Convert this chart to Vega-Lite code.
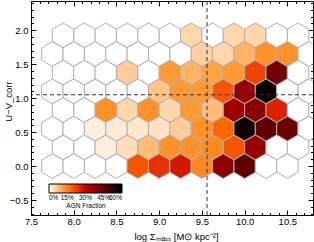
{
  "$schema": "https://vega.github.io/schema/vega-lite/v6.json",
  "width": 282,
  "height": 214,
  "autosize": {"type": "none"},
  "padding": {"left": 31, "top": 1, "right": 1, "bottom": 27},
  "config": {
    "view": {"stroke": "black", "strokeWidth": 1},
    "font": "Liberation Sans",
    "axis": {"domain": false, "grid": false, "tickColor": "black", "labelColor": "black", "titleColor": "black", "labelFont": "Liberation Sans", "titleFont": "Liberation Sans", "labelFontSize": 9.5, "titleFontSize": 9.5, "titleFontWeight": "normal", "labelOverlap": false, "labelFlush": false, "labelBound": false}
  },
  "resolve": {"axis": {"x": "independent", "y": "independent"}},
  "layer": [
    {
      "data": {"values": [
        {"logSigma": 7.875, "UV": 1.925, "agn": 0}, {"logSigma": 8.125, "UV": 1.925, "agn": 0}, {"logSigma": 8.375, "UV": 1.925, "agn": 0}, {"logSigma": 8.625, "UV": 1.925, "agn": 0}, {"logSigma": 8.875, "UV": 1.925, "agn": 0}, {"logSigma": 9.125, "UV": 1.925, "agn": 0}, {"logSigma": 9.375, "UV": 1.925, "agn": 0.05}, {"logSigma": 9.625, "UV": 1.925, "agn": 0}, {"logSigma": 9.875, "UV": 1.925, "agn": 0.05}, {"logSigma": 10.125, "UV": 1.925, "agn": 0.05}, {"logSigma": 10.375, "UV": 1.925, "agn": 0}, {"logSigma": 10.625, "UV": 1.925, "agn": 0},
        {"logSigma": 7.75, "UV": 1.65, "agn": 0}, {"logSigma": 8.0, "UV": 1.65, "agn": 0}, {"logSigma": 8.25, "UV": 1.65, "agn": 0}, {"logSigma": 8.5, "UV": 1.65, "agn": 0}, {"logSigma": 8.75, "UV": 1.65, "agn": 0}, {"logSigma": 9.0, "UV": 1.65, "agn": 0}, {"logSigma": 9.25, "UV": 1.65, "agn": 0}, {"logSigma": 9.5, "UV": 1.65, "agn": 0.055}, {"logSigma": 9.75, "UV": 1.65, "agn": 0.05}, {"logSigma": 10.0, "UV": 1.65, "agn": 0.09}, {"logSigma": 10.25, "UV": 1.65, "agn": 0.13}, {"logSigma": 10.5, "UV": 1.65, "agn": 0.13}, {"logSigma": 10.75, "UV": 1.65, "agn": 0},
        {"logSigma": 7.875, "UV": 1.375, "agn": 0}, {"logSigma": 8.125, "UV": 1.375, "agn": 0}, {"logSigma": 8.375, "UV": 1.375, "agn": 0}, {"logSigma": 8.625, "UV": 1.375, "agn": 0.06}, {"logSigma": 8.875, "UV": 1.375, "agn": 0}, {"logSigma": 9.125, "UV": 1.375, "agn": 0.12}, {"logSigma": 9.375, "UV": 1.375, "agn": 0.09}, {"logSigma": 9.625, "UV": 1.375, "agn": 0.11}, {"logSigma": 9.875, "UV": 1.375, "agn": 0.12}, {"logSigma": 10.125, "UV": 1.375, "agn": 0.22}, {"logSigma": 10.375, "UV": 1.375, "agn": 0.42}, {"logSigma": 10.625, "UV": 1.375, "agn": 0},
        {"logSigma": 7.75, "UV": 1.1, "agn": 0}, {"logSigma": 8.0, "UV": 1.1, "agn": 0}, {"logSigma": 8.25, "UV": 1.1, "agn": 0}, {"logSigma": 8.5, "UV": 1.1, "agn": 0}, {"logSigma": 8.75, "UV": 1.1, "agn": 0}, {"logSigma": 9.0, "UV": 1.1, "agn": 0.07}, {"logSigma": 9.25, "UV": 1.1, "agn": 0.12}, {"logSigma": 9.5, "UV": 1.1, "agn": 0.12}, {"logSigma": 9.75, "UV": 1.1, "agn": 0.2}, {"logSigma": 10.0, "UV": 1.1, "agn": 0.36}, {"logSigma": 10.25, "UV": 1.1, "agn": 0.58}, {"logSigma": 10.5, "UV": 1.1, "agn": 0}, {"logSigma": 10.75, "UV": 1.1, "agn": 0},
        {"logSigma": 7.875, "UV": 0.825, "agn": 0}, {"logSigma": 8.125, "UV": 0.825, "agn": 0}, {"logSigma": 8.375, "UV": 0.825, "agn": 0.13}, {"logSigma": 8.625, "UV": 0.825, "agn": 0.05}, {"logSigma": 8.875, "UV": 0.825, "agn": 0.13}, {"logSigma": 9.125, "UV": 0.825, "agn": 0.05}, {"logSigma": 9.375, "UV": 0.825, "agn": 0.12}, {"logSigma": 9.625, "UV": 0.825, "agn": 0.08}, {"logSigma": 9.875, "UV": 0.825, "agn": 0.35}, {"logSigma": 10.125, "UV": 0.825, "agn": 0.38}, {"logSigma": 10.375, "UV": 0.825, "agn": 0.26}, {"logSigma": 10.625, "UV": 0.825, "agn": 0},
        {"logSigma": 7.75, "UV": 0.55, "agn": 0}, {"logSigma": 8.0, "UV": 0.55, "agn": 0}, {"logSigma": 8.25, "UV": 0.55, "agn": 0.02}, {"logSigma": 8.5, "UV": 0.55, "agn": 0.025}, {"logSigma": 8.75, "UV": 0.55, "agn": 0.03}, {"logSigma": 9.0, "UV": 0.55, "agn": 0.035}, {"logSigma": 9.25, "UV": 0.55, "agn": 0.06}, {"logSigma": 9.5, "UV": 0.55, "agn": 0.13}, {"logSigma": 9.75, "UV": 0.55, "agn": 0.18}, {"logSigma": 10.0, "UV": 0.55, "agn": 0.57}, {"logSigma": 10.25, "UV": 0.55, "agn": 0.45}, {"logSigma": 10.5, "UV": 0.55, "agn": 0.43}, {"logSigma": 10.75, "UV": 0.55, "agn": 0},
        {"logSigma": 7.875, "UV": 0.275, "agn": 0}, {"logSigma": 8.125, "UV": 0.275, "agn": 0}, {"logSigma": 8.375, "UV": 0.275, "agn": 0.02}, {"logSigma": 8.625, "UV": 0.275, "agn": 0.04}, {"logSigma": 8.875, "UV": 0.275, "agn": 0.08}, {"logSigma": 9.125, "UV": 0.275, "agn": 0.13}, {"logSigma": 9.375, "UV": 0.275, "agn": 0.13}, {"logSigma": 9.625, "UV": 0.275, "agn": 0.14}, {"logSigma": 9.875, "UV": 0.275, "agn": 0.2}, {"logSigma": 10.125, "UV": 0.275, "agn": 0.36}, {"logSigma": 10.375, "UV": 0.275, "agn": 0}, {"logSigma": 10.625, "UV": 0.275, "agn": 0},
        {"logSigma": 7.75, "UV": 0.0, "agn": 0}, {"logSigma": 8.0, "UV": 0.0, "agn": 0}, {"logSigma": 8.25, "UV": 0.0, "agn": 0}, {"logSigma": 8.5, "UV": 0.0, "agn": 0}, {"logSigma": 8.75, "UV": 0.0, "agn": 0.2}, {"logSigma": 9.0, "UV": 0.0, "agn": 0.24}, {"logSigma": 9.25, "UV": 0.0, "agn": 0.27}, {"logSigma": 9.5, "UV": 0.0, "agn": 0.14}, {"logSigma": 9.75, "UV": 0.0, "agn": 0.38}, {"logSigma": 10.0, "UV": 0.0, "agn": 0.45}, {"logSigma": 10.25, "UV": 0.0, "agn": 0}, {"logSigma": 10.5, "UV": 0.0, "agn": 0}
      ]},
      "mark": {"type": "point", "shape": "M0,-1L0.866,-0.5L0.866,0.5L0,1L-0.866,0.5L-0.866,-0.5Z", "size": 610, "filled": true, "opacity": 1, "fillOpacity": 1, "stroke": "#b0b0b0", "strokeWidth": 1, "clip": true},
      "encoding": {
        "x": {"field": "logSigma", "type": "quantitative", "scale": {"domain": [7.5, 10.8], "nice": false, "zero": false},
          "axis": {"orient": "bottom", "title": "log Σₘₐₛₛ [M⊙ kpc⁻²]", "titleX": 145, "titleY": 21, "titleBaseline": "middle", "titleAlign": "center",
            "values": [7.5,7.6,7.7,7.8,7.9,8.0,8.1,8.2,8.3,8.4,8.5,8.6,8.7,8.8,8.9,9.0,9.1,9.2,9.3,9.4,9.5,9.6,9.7,9.8,9.9,10.0,10.1,10.2,10.3,10.4,10.5,10.6,10.7],
            "tickSize": {"condition": {"test": "abs(datum.value*2-round(datum.value*2))<0.001", "value": -5}, "value": -2.5},
            "labelExpr": "abs(datum.value*2-round(datum.value*2))<0.001 ? format(datum.value,'.1f') : ''",
            "labelPadding": 6}},
        "y": {"field": "UV", "type": "quantitative", "scale": {"domain": [-0.72, 2.43], "nice": false, "zero": false},
          "axis": {"orient": "left", "title": "U−V_corr", "titleX": -23, "titleY": 100, "titleAngle": 270, "titleBaseline": "middle", "titleAlign": "center",
            "values": [-0.7,-0.6,-0.5,-0.4,-0.3,-0.2,-0.1,0.0,0.1,0.2,0.3,0.4,0.5,0.6,0.7,0.8,0.9,1.0,1.1,1.2,1.3,1.4,1.5,1.6,1.7,1.8,1.9,2.0,2.1,2.2,2.3,2.4],
            "tickSize": {"condition": {"test": "abs(datum.value*2-round(datum.value*2))<0.001", "value": -5}, "value": -2.5},
            "labelExpr": "abs(datum.value*2-round(datum.value*2))<0.001 ? format(datum.value,'.1f') : ''",
            "labelPadding": 8}},
        "fill": {"condition": {"test": "datum.agn == 0", "value": "#ffffff"},
          "field": "agn", "type": "quantitative", "title": "AGN Fraction",
          "scale": {"type": "linear", "interpolate": "rgb", "domain": [0, 0.06, 0.12, 0.18, 0.24, 0.3, 0.36, 0.42, 0.48, 0.54, 0.6],
            "range": ["#ffffff", "#ffcc99", "#ff9933", "#ff6600", "#e63300", "#bf0000", "#990000", "#730000", "#4d0000", "#260000", "#000000"]},
          "legend": {"orient": "none", "legendX": 18, "legendY": 183, "direction": "horizontal", "gradientLength": 73, "gradientThickness": 9,
            "gradientStrokeColor": "black", "gradientStrokeWidth": 1, "values": [0, 0.15, 0.3, 0.45, 0.6], "format": ".0%",
            "labelFontSize": 6.5, "labelFont": "Liberation Sans", "labelColor": "black", "labelOverlap": false, "labelOffset": 2,
            "titleOrient": "bottom", "titleAnchor": "middle", "titleFontSize": 6.5, "titleFontWeight": "normal", "titleFont": "Liberation Sans", "titleColor": "black", "titlePadding": 1, "padding": 0}}
      }
    },
    {
      "data": {"values": [{"logSigma": 9.56}]},
      "mark": {"type": "rule", "stroke": "#333333", "strokeWidth": 1, "strokeDash": [4, 3]},
      "encoding": {
        "x": {"field": "logSigma", "type": "quantitative",
          "axis": {"orient": "top", "title": null, "labels": false,
            "values": [7.5,7.6,7.7,7.8,7.9,8.0,8.1,8.2,8.3,8.4,8.5,8.6,8.7,8.8,8.9,9.0,9.1,9.2,9.3,9.4,9.5,9.6,9.7,9.8,9.9,10.0,10.1,10.2,10.3,10.4,10.5,10.6,10.7],
            "tickSize": {"condition": {"test": "abs(datum.value*2-round(datum.value*2))<0.001", "value": -5}, "value": -2.5}}}
      }
    },
    {
      "data": {"values": [{"UV": 1.05}]},
      "mark": {"type": "rule", "stroke": "#333333", "strokeWidth": 1, "strokeDash": [4, 3]},
      "encoding": {
        "y": {"field": "UV", "type": "quantitative",
          "axis": {"orient": "right", "title": null, "labels": false,
            "values": [-0.7,-0.6,-0.5,-0.4,-0.3,-0.2,-0.1,0.0,0.1,0.2,0.3,0.4,0.5,0.6,0.7,0.8,0.9,1.0,1.1,1.2,1.3,1.4,1.5,1.6,1.7,1.8,1.9,2.0,2.1,2.2,2.3,2.4],
            "tickSize": {"condition": {"test": "abs(datum.value*2-round(datum.value*2))<0.001", "value": -5}, "value": -2.5}}}
      }
    }
  ]
}
